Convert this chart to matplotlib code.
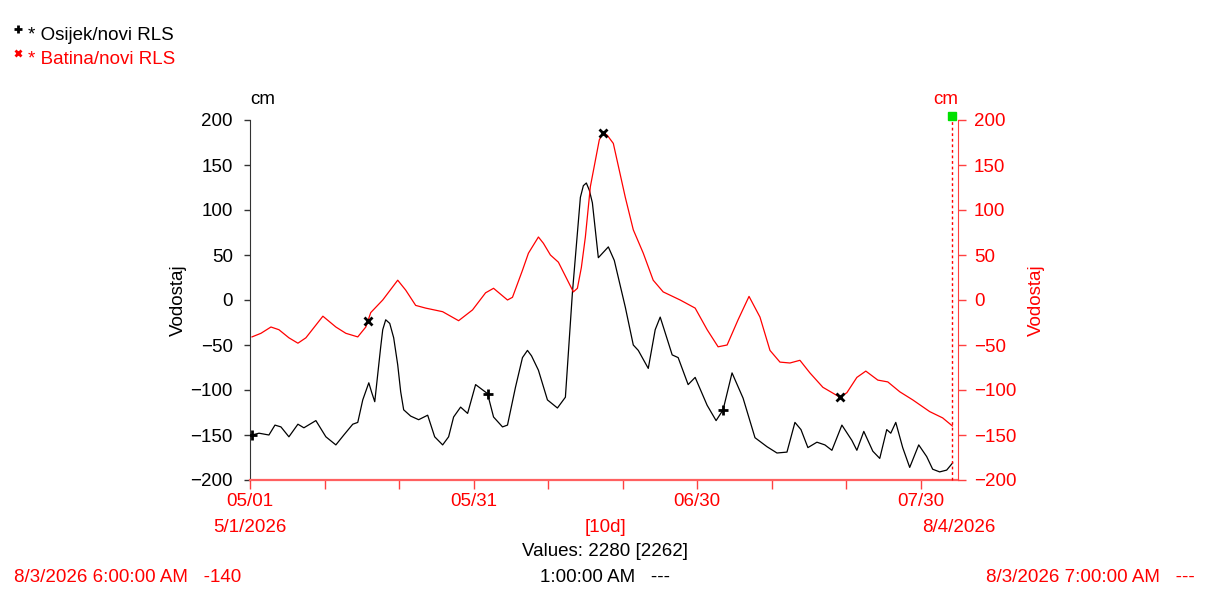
import numpy as np
import pandas as pd
import matplotlib
matplotlib.use("Agg")
from matplotlib import pyplot as plt
from matplotlib.lines import Line2D
import matplotlib.dates as mdates

plt.rcParams['font.family'] = ['Liberation Sans', 'DejaVu Sans']
plt.rcParams['font.size'] = 13.5

START = pd.Timestamp('2026-05-01')
END = pd.Timestamp('2026-08-04')

# days after 5/1/2026 00:00, water level in cm
osijek_days = [0.27, 1.21, 2.54, 3.35, 4.15, 5.22, 6.43, 7.23, 8.84, 10.18, 11.52, 12.59,
               13.79, 14.46, 15.13, 15.94, 16.34, 16.74, 17.54, 17.81, 18.21, 18.75, 19.28,
               19.82, 20.22, 20.62,
               21.56, 22.63, 23.84, 24.78, 25.85, 26.65, 27.32, 28.26, 29.20, 30.27, 31.87,
               32.68, 33.88, 34.55, 35.62, 36.56, 37.23, 37.77, 38.70, 39.91, 41.25, 42.32,
               43.26, 44.33, 44.73,
               45.13, 45.53, 45.94, 46.74, 48.08, 48.88, 50.36, 51.43, 52.10, 53.44, 54.37,
               55.04, 55.58, 56.65,
               57.45, 58.79, 59.73, 61.34, 62.54, 63.48, 64.68, 66.16, 67.76, 69.37, 70.71,
               72.05, 73.12, 73.93, 74.86, 76.07, 77.14, 78.08, 79.42, 80.76, 81.43, 82.36,
               83.57, 84.50, 85.44, 85.98, 86.65, 87.58, 88.52, 89.73, 90.80, 91.60, 92.54,
               93.48, 94.28]
osijek_cm = [-150, -148, -150, -139, -141, -152, -138, -142, -134, -152, -161, -150,
             -138, -136, -111, -92, -103, -113, -52, -33, -22, -26, -42,
             -72, -102, -122,
             -129, -133, -128, -152, -161, -152, -130, -119, -126, -94, -104,
             -130, -141, -139, -97, -64, -56, -62, -78, -111, -120, -108,
             8, 114, 127,
             130, 122, 108, 47, 59, 44, -8, -50, -56, -76, -33,
             -19, -33, -61,
             -64, -94, -86, -117, -134, -122, -81, -109, -153, -163, -170,
             -169, -136, -144, -164, -158, -161, -167, -139, -156, -167, -146,
             -168, -176, -144, -148, -136, -164, -186, -161, -174, -188, -191,
             -189, -181]

batina_days = [0.27, 1.47, 2.81, 3.88, 5.22, 6.43, 7.50, 9.78, 11.52, 12.86, 14.46, 15.54,
               16.20, 17.81, 19.82, 20.89, 22.23, 23.57, 25.85, 27.99, 29.86, 31.61, 32.68,
               34.55, 35.22, 36.56, 37.36, 38.03, 38.70, 39.37, 40.31, 41.38, 43.39, 43.93,
               44.46, 45.00,
               45.67, 46.87, 47.41, 47.94, 48.75, 50.36, 51.43, 52.77, 54.10, 55.44, 57.72,
               59.73,
               61.34, 62.81, 64.02, 65.49, 66.96, 68.43, 69.77, 71.11, 72.45, 73.79, 75.13,
               76.87, 79.15, 80.09, 81.43, 82.63, 84.24, 85.58, 87.19, 88.93, 91.20, 92.94,
               94.25]
batina_cm = [-41, -37, -30, -33, -42, -48, -42, -18, -30, -37, -41, -30,
             -14, 0, 22, 11, -6, -9, -13, -23, -11, 8, 13,
             0, 3, 33, 52, 61, 70, 63, 50, 42, 9, 13,
             36, 70,
             126, 178, 186, 183, 174, 114, 78, 52, 22, 9, 0,
             -9,
             -33, -52, -50, -22, 4, -19, -56, -69, -70, -67, -81,
             -97, -108, -103, -86, -79, -89, -91, -102, -111, -124, -131,
             -140]

osijek_mark_days = [0.27, 31.87, 63.48]
batina_mark_days = [15.8, 47.41, 79.15]
cursor_day = 94.25

yticks = [200, 150, 100, 50, 0, -50, -100, -150, -200]


def to_dates(days):
    return START + pd.to_timedelta(np.asarray(days), unit='D')


def px(x, y):
    return x / 1219, 1 - y / 600


fig = plt.figure(figsize=(12.19, 6.0), dpi=100)
ax = fig.add_axes([250 / 1219, 0.2, (958 - 250) / 1219, 0.6])
ax2 = ax.twinx()

ax.plot(to_dates(osijek_days), osijek_cm, color='black', lw=0.9, zorder=3)
ax2.plot(to_dates(batina_days), batina_cm, color='red', lw=0.9, zorder=3)
ax.plot(to_dates(osijek_mark_days), np.interp(osijek_mark_days, osijek_days, osijek_cm),
        ls='none', marker='+', ms=7, mew=2, color='black', zorder=4)
ax2.plot(to_dates(batina_mark_days), np.interp(batina_mark_days, batina_days, batina_cm),
         ls='none', marker='x', ms=6, mew=2, color='black', zorder=4)

# cursor
cx = to_dates([cursor_day])
ax2.axvline(cx[0], color='red', lw=1, ls=(0, (2, 2)), ymax=1.01, clip_on=False)
ax2.plot(cx, [204], marker='s', ms=5.5, color='#00e000', ls='none', clip_on=False, zorder=5)

for a in (ax, ax2):
    a.set_xlim(START, END)
    a.set_ylim(-200, 200)
    a.set_yticks(yticks)
    a.spines['top'].set_visible(False)

ax.spines['right'].set_visible(False)
ax.spines['left'].set_color('#333333')
ax.spines['bottom'].set_color('#ff6060')
ax.spines['bottom'].set_linewidth(1.6)
ax2.spines['left'].set_visible(False)
ax2.spines['bottom'].set_visible(False)
ax2.spines['right'].set_color('#ff4040')

ax.tick_params(axis='y', direction='out', length=4.3, width=1, color='#333333', pad=8,
               labelcolor='black')
ax2.tick_params(axis='y', direction='out', length=5.8, width=1, color='#ff4040', pad=5.8,
                labelcolor='red')

major = mdates.date2num(pd.date_range(START, END, freq='30D'))
minor = mdates.date2num(pd.date_range(START, END, freq='10D'))
ax.set_xticks(major)
ax.set_xticks(minor, minor=True)
ax.xaxis.set_major_formatter(mdates.DateFormatter('%m/%d'))
ax.tick_params(axis='x', which='both', direction='out', length=6.5, width=1,
               color='#ff4040', pad=3, labelcolor='red')

# unit labels, axis titles
fig.text(*px(250, 100), 'cm', ha='left', va='center', color='black')
fig.text(*px(958, 100), 'cm', ha='right', va='center', color='red')
fig.text(*px(178, 300), 'Vodostaj', rotation=90, ha='center', va='center', color='black')
fig.text(*px(1036, 300), 'Vodostaj', rotation=90, ha='center', va='center', color='red')

# date range row
fig.text(*px(250, 528), '5/1/2026', ha='center', va='center', color='red')
fig.text(*px(605, 528), '[10d]', ha='center', va='center', color='red')
fig.text(*px(959, 528), '8/4/2026', ha='center', va='center', color='red')
fig.text(*px(605, 552), 'Values: 2280 [2262]', ha='center', va='center', color='black')

# cursor readouts
fig.text(*px(14, 577), '8/3/2026 6:00:00 AM   -140', ha='left', va='center', color='red')
fig.text(*px(540, 577), '1:00:00 AM   ---', ha='left', va='center', color='black')
fig.text(*px(1195, 577), '8/3/2026 7:00:00 AM   ---', ha='right', va='center', color='red')

# legend
fig.add_artist(Line2D([18 / 1219], [1 - 29 / 600], marker='+', ms=6, mew=2, color='black'))
fig.add_artist(Line2D([18 / 1219], [1 - 53 / 600], marker='x', ms=5, mew=2, color='red'))
fig.text(*px(28, 35), '* Osijek/novi RLS', ha='left', va='center', color='black')
fig.text(*px(28, 59), '* Batina/novi RLS', ha='left', va='center', color='red')

fig.savefig('out.png', dpi=100)
